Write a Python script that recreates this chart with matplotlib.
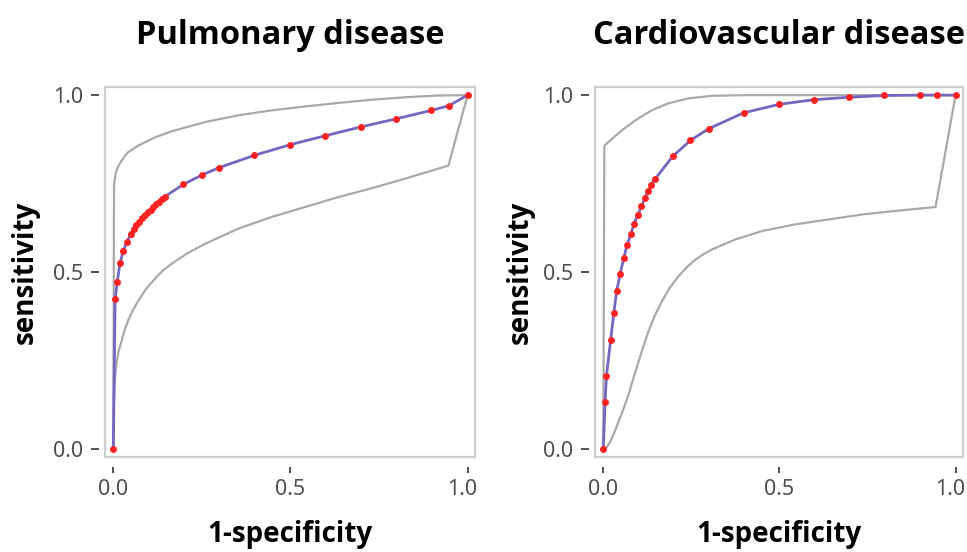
import matplotlib
matplotlib.use("Agg")
from matplotlib import pyplot as plt
import matplotlib.transforms as mtrans

# Pulmonary disease: ROC points (1-specificity, sensitivity)
pulm_fpr = [0.0, 0.005, 0.011, 0.019, 0.028, 0.038, 0.049,
            0.057, 0.065, 0.073, 0.081, 0.089, 0.097, 0.105, 0.113, 0.121, 0.129, 0.137, 0.145,
            0.198, 0.249, 0.298, 0.398, 0.499, 0.597, 0.698, 0.798, 0.898, 0.947, 1.0]
pulm_tpr = [0.0, 0.423, 0.472, 0.527, 0.560, 0.585, 0.607,
            0.622, 0.633, 0.643, 0.652, 0.661, 0.669, 0.677, 0.685, 0.692, 0.699, 0.706, 0.713,
            0.748, 0.774, 0.795, 0.830, 0.860, 0.885, 0.910, 0.933, 0.957, 0.970, 1.0]

# confidence band
pulm_up_x = [0.0, 0.002, 0.006, 0.012, 0.019, 0.030, 0.042, 0.071, 0.118, 0.165, 0.259, 0.353, 0.447,
             0.541, 0.635, 0.729, 0.823, 0.917, 1.0]
pulm_up_y = [0.0, 0.745, 0.776, 0.795, 0.808, 0.825, 0.839, 0.858, 0.881, 0.898, 0.924, 0.943, 0.957,
             0.968, 0.978, 0.987, 0.994, 0.999, 1.0]
pulm_lo_x = [0.0, 0.001, 0.003, 0.006, 0.009, 0.015, 0.024, 0.032, 0.042, 0.055, 0.071, 0.092,
             0.118, 0.140, 0.165, 0.210, 0.259, 0.353, 0.447, 0.541, 0.635, 0.729, 0.823, 0.946, 1.0]
pulm_lo_y = [0.0, 0.110, 0.176, 0.215, 0.242, 0.277, 0.308, 0.337, 0.364, 0.392, 0.420, 0.452,
             0.482, 0.505, 0.524, 0.554, 0.580, 0.623, 0.656, 0.684, 0.712, 0.737, 0.764, 0.801, 1.0]

# Cardiovascular disease
cardio_fpr = [0.0, 0.005, 0.009, 0.021, 0.030, 0.038, 0.048, 0.058, 0.067, 0.078,
              0.087, 0.098, 0.108, 0.118, 0.127, 0.136, 0.147,
              0.197, 0.247, 0.299, 0.398, 0.499, 0.597, 0.697, 0.797, 0.898, 0.948, 1.0]
cardio_tpr = [0.0, 0.132, 0.207, 0.309, 0.385, 0.447, 0.496, 0.539, 0.576, 0.607,
              0.636, 0.662, 0.686, 0.709, 0.728, 0.747, 0.763,
              0.827, 0.872, 0.905, 0.950, 0.974, 0.987, 0.994, 0.999, 1.0, 1.0, 1.0]

cardio_up_x = [0.0, 0.003, 0.024, 0.052, 0.090, 0.137, 0.185, 0.242, 0.308, 0.403, 1.0]
cardio_up_y = [0.0, 0.857, 0.876, 0.900, 0.928, 0.957, 0.977, 0.991, 0.998, 1.0, 1.0]
cardio_lo_x = [0.0, 0.010, 0.019, 0.030, 0.043, 0.057, 0.071, 0.085, 0.100, 0.114, 0.128, 0.146,
               0.166, 0.188, 0.213, 0.237, 0.261, 0.285, 0.308,
               0.374, 0.450, 0.545, 0.640, 0.735, 0.829, 0.943, 1.0]
cardio_lo_y = [0.0, 0.006, 0.020, 0.044, 0.077, 0.113, 0.152, 0.199, 0.247, 0.291, 0.332, 0.377,
               0.417, 0.455, 0.488, 0.514, 0.535, 0.551, 0.564,
               0.592, 0.616, 0.635, 0.649, 0.663, 0.673, 0.684, 1.0]

titles = ["Pulmonary disease", "Cardiovascular disease"]
ticks = [0.0, 0.5, 1.0]
tick_labels = ["0.0", "0.5", "1.0"]

fig = plt.figure(figsize=(9.67, 5.52), dpi=100)
ax1 = fig.add_axes([105/967, 1 - 457/552, 370/967, 370/552])
ax2 = fig.add_axes([595/967, 1 - 457/552, 368/967, 370/552])

panels = [
    (ax1, pulm_fpr, pulm_tpr, pulm_up_x, pulm_up_y, pulm_lo_x, pulm_lo_y),
    (ax2, cardio_fpr, cardio_tpr, cardio_up_x, cardio_up_y, cardio_lo_x, cardio_lo_y),
]

grey = "#a9a9a9"
tick_col = "#505050"
for i, (ax, fx, fy, ux, uy, lx, ly) in enumerate(panels):
    ax.plot(ux, uy, color=grey, lw=1.6, zorder=1)
    ax.plot(lx, ly, color=grey, lw=1.6, zorder=1)
    ax.plot(fx, fy, color="#7567c0", lw=2.0, zorder=2)
    ax.plot(fx, fy, 'o', color="#ff2222", markersize=5, markeredgewidth=0, zorder=3)

    ax.set_xlim(-0.0235, 1.021)
    ax.set_ylim(-0.022, 1.023)
    for sp in ax.spines.values():
        sp.set_color("#cfcfcf")
        sp.set_linewidth(1.6)
    ax.set_xticks([])
    ax.set_yticks([])

    # ticks sit a little away from the frame
    sx = ax.secondary_xaxis(-0.027)
    sx.spines['bottom'].set_visible(False)
    sx.set_xticks(ticks, tick_labels)
    sx.tick_params(direction='out', length=4, width=1.4, color=tick_col,
                   labelcolor=tick_col, labelsize=15.5, pad=5)
    xl = sx.get_xticklabels()
    for t in xl:
        t.set_fontfamily("Noto Sans")
    xl[-1].set_transform(xl[-1].get_transform() +
                         mtrans.ScaledTranslation(-5/100, 0, fig.dpi_scale_trans))
    sx.set_xlabel("1-specificity", fontsize=20, fontweight='bold',
                  fontfamily="Open Sans", labelpad=14)

    sy = ax.secondary_yaxis(-0.017)
    sy.spines['left'].set_visible(False)
    sy.set_yticks(ticks, tick_labels)
    sy.tick_params(direction='out', length=6, width=1.4, color=tick_col,
                   labelcolor=tick_col, labelsize=15.5, pad=5)
    for t in sy.get_yticklabels():
        t.set_fontfamily("Noto Sans")
    sy.set_ylabel("sensitivity", fontsize=20, fontweight='bold',
                  fontfamily="Open Sans", labelpad=10 if i == 0 else 6)

    ax.set_title(titles[i], fontsize=23.5, fontweight='bold',
                 fontfamily="Open Sans", pad=31)

fig.savefig("out.png", dpi=100)
